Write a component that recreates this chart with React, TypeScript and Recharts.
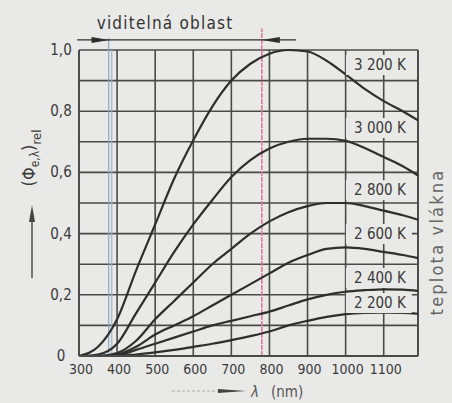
import React from "react";
import {
  CartesianGrid,
  Line,
  LineChart,
  ReferenceDot,
  ReferenceLine,
  XAxis,
  YAxis,
} from "recharts";

// wavelength in nm
const WAVELENGTH = [300, 350, 400, 450, 500, 550, 600, 650, 700, 750, 800, 850, 900, 950, 1000, 1050, 1100, 1150, 1190];

// relative spectral flux
const T3200 = [0, 0.03, 0.12, 0.28, 0.43, 0.58, 0.705, 0.815, 0.9, 0.955, 0.988, 1.0, 0.995, 0.965, 0.92, 0.873, 0.833, 0.8, 0.77];
const T3000 = [0, 0.005, 0.04, 0.14, 0.24, 0.34, 0.43, 0.51, 0.585, 0.64, 0.678, 0.7, 0.71, 0.71, 0.703, 0.68, 0.65, 0.62, 0.59];
const T2800 = [0, 0, 0.01, 0.05, 0.12, 0.18, 0.24, 0.3, 0.35, 0.4, 0.44, 0.47, 0.49, 0.5, 0.5, 0.49, 0.475, 0.46, 0.445];
const T2600 = [0, 0, 0.005, 0.03, 0.07, 0.1, 0.13, 0.165, 0.2, 0.235, 0.27, 0.305, 0.33, 0.35, 0.355, 0.35, 0.34, 0.33, 0.32];
const T2400 = [0, 0, 0.002, 0.02, 0.04, 0.06, 0.08, 0.1, 0.115, 0.13, 0.145, 0.165, 0.185, 0.2, 0.21, 0.215, 0.218, 0.217, 0.213];
const T2200 = [0, 0, 0, 0.005, 0.012, 0.02, 0.03, 0.04, 0.052, 0.065, 0.08, 0.1, 0.115, 0.128, 0.137, 0.141, 0.142, 0.141, 0.138];

const SERIES = ["t3200", "t3000", "t2800", "t2600", "t2400", "t2200"];
const SERIES_LABELS = ["3 200 K", "3 000 K", "2 800 K", "2 600 K", "2 400 K", "2 200 K"];

const X_TICKS = [300, 400, 500, 600, 700, 800, 900, 1000, 1100];
const Y_TICKS = [0, 0.1, 0.2, 0.3, 0.4, 0.5, 0.6, 0.7, 0.8, 0.9, 1.0];

// visible range boundaries (nm)
const VISIBLE_FROM = 380;
const VISIBLE_TO = 780;

// where the curve names sit (data coords)
const LABEL_X = 1090;
const LABEL_Y = [0.951, 0.745, 0.542, 0.399, 0.255, 0.173];

const rows = WAVELENGTH.map((wl, i) => ({
  wl,
  t3200: T3200[i],
  t3000: T3000[i],
  t2800: T2800[i],
  t2600: T2600[i],
  t2400: T2400[i],
  t2200: T2200[i],
}));

const BG = "#e9e9e7";
const INK = "#2e2e2e";
const GRID = "#4a4a4a";
const FONT = "'DejaVu Sans Condensed', 'Liberation Sans Narrow', 'Liberation Sans', sans-serif";

function XTick({ x, y, payload }: any) {
  return (
    <text x={x + 2} y={y + 10} textAnchor="middle" fontSize={14} fill="#3a3a3a" fontFamily={FONT}>
      {payload.value}
    </text>
  );
}

function YTick({ y, payload }: any) {
  const v = Math.round(payload.value * 10);
  if (v % 2 !== 0) return null;
  const s = v === 0 ? "0" : (v / 10).toFixed(1).replace(".", ",");
  return (
    <text x={61} y={y + 5} textAnchor="middle" fontSize={15} fill="#3a3a3a" fontFamily={FONT}>
      {s}
    </text>
  );
}

function CurveLabel({ cx, cy, text }: any) {
  const w = 66;
  return (
    <g>
      <rect x={cx - w / 2 - 1} y={cy - 10} width={w} height={20} fill={BG} />
      <text x={cx} y={cy + 5} textAnchor="middle" fontSize={15} fill="#3a3a3a" fontFamily={FONT}>
        {text}
      </text>
    </g>
  );
}

function ArrowHead({ cx, cy, dir }: any) {
  const d = dir === "right" ? -18 : 18;
  return <polygon points={`${cx},${cy} ${cx + d},${cy - 3} ${cx + d},${cy + 3}`} fill={INK} />;
}

export default function App() {
  return (
    <div style={{ position: "absolute", left: 0, top: 0, width: 452, height: 403, background: BG }}>
      <LineChart width={452} height={403} data={rows} margin={{ top: 50, right: 34, left: 0, bottom: 17 }}>
        <CartesianGrid stroke={GRID} strokeOpacity={1} strokeWidth={1.6} />
        <XAxis
          dataKey="wl"
          type="number"
          domain={[300, 1190]}
          ticks={X_TICKS}
          interval={0}
          height={30}
          tickLine={false}
          axisLine={{ stroke: GRID, strokeWidth: 1.8 }}
          tick={<XTick />}
        />
        <YAxis
          type="number"
          domain={[0, 1]}
          ticks={Y_TICKS}
          interval={0}
          width={79}
          tickLine={false}
          axisLine={{ stroke: GRID, strokeWidth: 1.8 }}
          tick={<YTick />}
        />
        <ReferenceLine x={1190} stroke={GRID} strokeWidth={1.8} />
        <ReferenceLine
          segment={[{ x: VISIBLE_FROM - 2, y: 0 }, { x: VISIBLE_FROM - 2, y: 1.04 }]}
          stroke="#8ea6c6"
          strokeWidth={1.2}
          ifOverflow="visible"
        />
        <ReferenceLine
          segment={[{ x: VISIBLE_FROM + 6, y: 0 }, { x: VISIBLE_FROM + 6, y: 1.0 }]}
          stroke="#9fb3cf"
          strokeWidth={1.2}
          ifOverflow="visible"
        />
        <ReferenceLine
          segment={[{ x: VISIBLE_TO, y: 0 }, { x: VISIBLE_TO, y: 1.07 }]}
          stroke="#e07a96"
          strokeWidth={1.6}
          strokeDasharray="5 1"
          ifOverflow="visible"
        />
        <ReferenceLine
          segment={[{ x: 295, y: 1.033 }, { x: 870, y: 1.033 }]}
          stroke={INK}
          strokeWidth={1.2}
          ifOverflow="visible"
        />
        <ReferenceDot
          x={VISIBLE_FROM}
          y={1.033}
          r={0}
          ifOverflow="visible"
          shape={(p: any) => <ArrowHead {...p} dir="right" />}
        />
        <ReferenceDot
          x={VISIBLE_TO}
          y={1.033}
          r={0}
          ifOverflow="visible"
          shape={(p: any) => <ArrowHead {...p} dir="left" />}
        />
        {SERIES.map((key) => (
          <Line
            key={key}
            dataKey={key}
            type="monotone"
            stroke={INK}
            strokeWidth={2.2}
            dot={false}
            activeDot={false}
            isAnimationActive={false}
          />
        ))}
        {SERIES_LABELS.map((t, i) => (
          <ReferenceDot
            key={t}
            x={LABEL_X}
            y={LABEL_Y[i]}
            r={0}
            ifOverflow="visible"
            shape={(p: any) => <CurveLabel {...p} text={t} />}
          />
        ))}
      </LineChart>
      <svg
        width={452}
        height={403}
        style={{ position: "absolute", left: 0, top: 0, pointerEvents: "none" }}
      >
        <text x={165} y={29} textAnchor="middle" fontSize={17} letterSpacing={1.2} fill="#333" fontFamily={FONT}>
          viditelná oblast
        </text>
        <g transform="translate(35,158) rotate(-90)">
          <text textAnchor="middle" fontSize={18} fill="#3a3a3a" fontFamily={FONT}>
            (Φ<tspan fontSize={12} dy={4}>e,λ</tspan>
            <tspan dy={-4}>)</tspan>
            <tspan fontSize={13} dy={6}>rel</tspan>
          </text>
        </g>
        <line x1={32} y1={278} x2={32} y2={215} stroke="#444" strokeWidth={1.4} />
        <polygon points="32,205 29,222 35,222" fill="#444" />
        <text
          transform="translate(443,242) rotate(-90)"
          textAnchor="middle"
          fontSize={18}
          letterSpacing={2.2}
          fill="#666"
          fontFamily={FONT}
        >
          teplota vlákna
        </text>
        <line x1={172} y1={391} x2={222} y2={391} stroke="#aaa" strokeWidth={1} strokeDasharray="3 2" />
        <polygon points="218,389 246,391 218,393" fill="#444" />
        <text x={251} y={397} fontSize={15} fill="#555" fontFamily={FONT}>
          <tspan fontStyle="italic">λ</tspan>
          <tspan dx={12}>(nm)</tspan>
        </text>
      </svg>
    </div>
  );
}
